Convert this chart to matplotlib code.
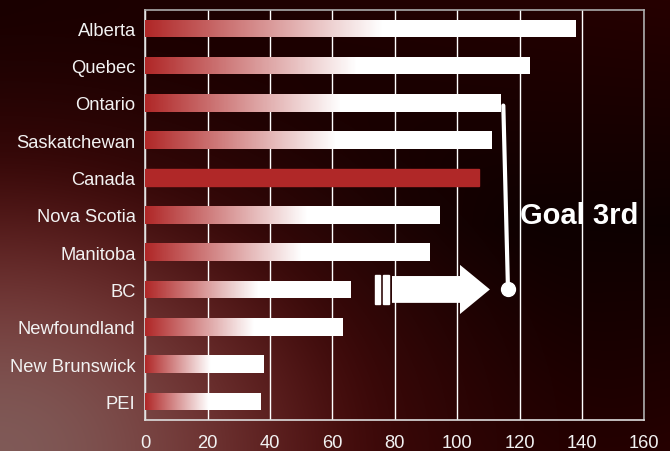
import numpy as np
import matplotlib
matplotlib.use("Agg")
import matplotlib.pyplot as plt
from matplotlib.colors import LinearSegmentedColormap
from matplotlib.patches import FancyArrow, Rectangle

plt.rcParams['font.family'] = ['Liberation Sans', 'DejaVu Sans']

provinces = ['Alberta', 'Quebec', 'Ontario', 'Saskatchewan', 'Canada', 'Nova Scotia',
             'Manitoba', 'BC', 'Newfoundland', 'New Brunswick', 'PEI']
values = [138.0, 123.4, 114.0, 111.1, 107.0, 94.5, 91.3, 65.9, 63.2, 38.1, 37.1]
xticks = [0, 20, 40, 60, 80, 100, 120, 140, 160]
goal_label = 'Goal 3rd'

red = '#b02828'
fig = plt.figure(figsize=(6.7, 4.52), dpi=100)


def smooth(t):
    t = np.clip(t, 0, 1)
    return t * t * (3 - 2 * t)


# background: near-black red, with a reddish then greyish-pink glow at bottom left
h, w = 452, 670
yy, xx = np.mgrid[0:h, 0:w]
u = xx / w
v = yy / h
base = np.zeros((h, w, 3))
base[..., 0] = 0.05 + 0.10 * np.abs(2 * v - 1) * u + 0.05 * (1 - u) * (1 - v)
r1 = smooth(1.1 * (1 - np.sqrt((u / 0.95) ** 2 + ((1 - v) / 1.05) ** 2)))
r2 = smooth(1 - np.sqrt((u / 0.6) ** 2 + ((1 - v) / 0.7) ** 2))
redcol = np.array([0.42, 0.08, 0.08])
greycol = np.array([0.50, 0.35, 0.34])
bg = base * (1 - r1[..., None]) + redcol * r1[..., None]
bg = bg * (1 - r2[..., None]) + greycol * r2[..., None]
bgax = fig.add_axes([0, 0, 1, 1])
bgax.imshow(bg, aspect='auto', extent=[0, 1, 0, 1], interpolation='bilinear')
bgax.axis('off')

ax = fig.add_axes([0.2169, 0.0686, 0.7447, 0.9077])
ax.set_facecolor('none')

ypos = np.arange(len(provinces))
bars = ax.barh(ypos, values, height=0.47, color='white', zorder=3)

cmap = LinearSegmentedColormap.from_list('rw', [red, 'white'])
grad = np.clip(np.linspace(0, 1 / 0.55, 256), 0, 1).reshape(1, -1)
for name, b in zip(provinces, bars):
    if name == 'Canada':
        b.set_color(red)
        continue
    x0, y0 = b.get_x(), b.get_y()
    im = ax.imshow(grad, cmap=cmap, vmin=0, vmax=1, aspect='auto', zorder=3,
                   extent=[x0, x0 + b.get_width(), y0 + b.get_height(), y0],
                   interpolation='bilinear')
    im.set_clip_path(b)

ax.set_xlim(0, 160)
ax.set_ylim(10.5, -0.5)
ax.set_xticks(xticks)
ax.set_yticks(ypos)
ax.set_yticklabels(provinces)
ax.tick_params(colors='#f2f2f2', labelsize=13.2, length=0, pad=7)
ax.tick_params(axis='x', pad=10)
ax.grid(axis='x', color='white', linewidth=1, zorder=1)
ax.set_axisbelow(True)
for s in ['top', 'right']:
    ax.spines[s].set_color('#aaaaaa')
for s in ['left', 'bottom']:
    ax.spines[s].set_color('#dddddd')
for s in ax.spines.values():
    s.set_linewidth(1.2)

# arrow from BC toward the goal
ax.add_patch(Rectangle((73.7, 6.62), 1.6, 0.76, color='white', zorder=4))
ax.add_patch(Rectangle((76.2, 6.62), 2.0, 0.76, color='white', zorder=4))
ax.add_patch(FancyArrow(79.1, 7.0, 31.4, 0, width=0.72, head_width=1.32,
                        head_length=9.6, length_includes_head=True,
                        color='white', linewidth=0, zorder=4))
ax.plot([114.8, 116.3], [2.07, 7.0], color='white', linewidth=3, zorder=4,
        solid_capstyle='round')
ax.plot([116.3], [7.0], 'o', color='white', markersize=10, zorder=4)
ax.text(120, 5.0, goal_label, color='white', fontsize=21, fontweight='bold',
        va='center', ha='left', zorder=5)

fig.savefig('out.png', dpi=100)
